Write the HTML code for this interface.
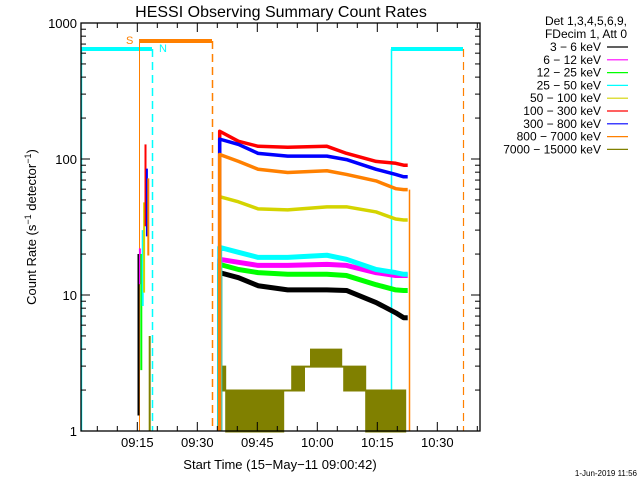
<!DOCTYPE html>
<html><head><meta charset="utf-8"><style>
html,body{margin:0;padding:0;background:#fff;}
svg{display:block;font-family:"Liberation Sans",sans-serif;}
</style></head><body>
<svg id="chart" width="640" height="480" viewBox="0 0 640 480">
<rect x="0" y="0" width="640" height="480" fill="#fff"/>
<text x="281" y="17" font-size="16" text-anchor="middle">HESSI Observing Summary Count Rates</text>
<text transform="translate(36,227) rotate(-90)" font-size="13" text-anchor="middle">Count Rate (s<tspan font-size="9" dy="-5">−1</tspan><tspan dy="5"> detector</tspan><tspan font-size="9" dy="-5">−1</tspan><tspan dy="5">)</tspan></text>
<text x="280" y="469" font-size="13" text-anchor="middle">Start Time (15−May−11 09:00:42)</text>
<text x="637" y="476" font-size="8" text-anchor="end">1-Jun-2019 11:56</text>
<g id="marks"></g>
<g id="axes"></g>
<g id="legend"></g>
</svg>
<script>
// ---- data ----
const seriesNames = ["3 - 6 keV","6 - 12 keV","12 - 25 keV","25 - 50 keV","50 - 100 keV","100 - 300 keV","300 - 800 keV","800 - 7000 keV","7000 - 15000 keV"];
const seriesColors = ["#000000","#ff00ff","#00ff00","#00ffff","#d4d400","#ff0000","#0000ff","#ff8000","#808000"];
// minutes after 09:00
const sampleTimes = [35.6, 40.3, 45.2, 52.6, 62.4, 67.3, 74.7, 79.6, 81.6];
const black3to6 = [14.6, 13.4, 11.7, 10.9, 10.9, 10.8, 8.8, 7.4, 6.8];
const magenta6to12 = [18.3, 17.4, 16.5, 16.5, 16.8, 16.5, 14.6, 13.9, 13.9];
const green12to25 = [16.8, 15.4, 14.6, 14.2, 14.2, 13.9, 11.9, 10.9, 10.8];
const cyan25to50 = [22.4, 20.6, 18.9, 18.9, 19.6, 18.3, 15.4, 14.6, 14.2];
const yellow50to100 = [52.8, 48.4, 43, 42.3, 44.5, 44.5, 40.8, 36.2, 35.6];
const red100to300 = [160, 135, 124, 122, 124, 110, 96, 93, 90];
const blue300to800 = [140, 128, 110, 105, 105, 99, 84, 77, 74];
const orange800to7000 = [108, 96, 84, 79.5, 82, 77, 69, 60.5, 59.5];
// flare spike near 09:15 (low / high values)
const spikeLow = [1.3, 12, 2.8, 8.3, 10.4, 32, 27, 19.5, 1];
const spikeHigh = [20, 22, 20, 30, 48, 128, 85, 72, 5];
// high energy channel: step envelope
const oliveTimes = [35.6, 37.1, 51.6, 53.6, 56.8, 58.3, 66.1, 66.6, 72.1, 82.1];
const oliveHigh = [3, 2, 2, 3, 3, 4, 3, 3, 2];
const oliveLow = [2, 1, 2, 2, 3, 3, 3, 2, 1];
const xTickLabels = ["09:15","09:30","09:45","10:00","10:15","10:30"];
const xTickMinutes = [15, 30, 45, 60, 75, 90];
const yTickValues = [1, 10, 100, 1000];
const yTickLabels = ["1","10","100","1000"];
const allSeries = [black3to6, magenta6to12, green12to25, cyan25to50, yellow50to100, red100to300, blue300to800, orange800to7000];

const L=81,R=480,T=23,B=431;
function xs(m){return 137.3+(m-15)*4.0;}
function ys(v){return B-136*Math.log10(v);}
const NS="http://www.w3.org/2000/svg";
function mk(tag,attrs,parent){const e=document.createElementNS(NS,tag);for(const k in attrs)e.setAttribute(k,attrs[k]);parent.appendChild(e);return e;}
const marks=document.getElementById('marks'),axes=document.getElementById('axes'),legend=document.getElementById('legend');

let e;
e=mk('line',{x1:L+0.5,y1:49,x2:L+0.5,y2:B,stroke:"#00ffff","stroke-width":1.5},marks);

e=mk('line',{x1:L,y1:49,x2:152,y2:49,stroke:"#00ffff","stroke-width":4},marks);

e=mk('line',{x1:152.5,y1:49,x2:152.5,y2:B,stroke:"#00ffff","stroke-width":1.5,"stroke-dasharray":"8,5"},marks);

e=mk('line',{x1:139.5,y1:41,x2:139.5,y2:B,stroke:"#ff8000","stroke-width":1},marks);

e=mk('line',{x1:139,y1:41,x2:212,y2:41,stroke:"#ff8000","stroke-width":4},marks);

e=mk('line',{x1:212.5,y1:41,x2:212.5,y2:B,stroke:"#ff8000","stroke-width":1.5,"stroke-dasharray":"8,5"},marks);

e=mk('line',{x1:391.5,y1:49,x2:391.5,y2:B,stroke:"#00ffff","stroke-width":1.5},marks);

e=mk('line',{x1:391,y1:49,x2:463,y2:49,stroke:"#00ffff","stroke-width":4},marks);

e=mk('line',{x1:463.5,y1:49,x2:463.5,y2:B,stroke:"#ff8000","stroke-width":1.2,"stroke-dasharray":"8,5"},marks);

e=mk('text',{x:126,y:44,fill:"#ff8000","font-size":11},marks);e.textContent="S";

e=mk('text',{x:159,y:52,fill:"#00ffff","font-size":11},marks);e.textContent="N";


// olive high-energy band
let pts=[];
for(let i=0;i<oliveHigh.length;i++){pts.push([xs(oliveTimes[i]),ys(oliveHigh[i])]);pts.push([xs(oliveTimes[i+1]),ys(oliveHigh[i])]);}
for(let i=oliveLow.length-1;i>=0;i--){pts.push([xs(oliveTimes[i+1]),ys(oliveLow[i])+1]);pts.push([xs(oliveTimes[i]),ys(oliveLow[i])+1]);}
e=mk('polygon',{points:pts.map(p=>p.join(',')).join(' '),fill:"#808000",stroke:"#808000","stroke-width":1},marks);


// spikes
for(let s=0;s<9;s++){
  e=mk('line',{x1:xs(15.3+s*0.35),y1:ys(spikeLow[s]),x2:xs(15.3+s*0.35),y2:ys(spikeHigh[s]),stroke:seriesColors[s],"stroke-width":2},marks);
  
}
// main series as lines with start riser
for(let s=0;s<allSeries.length;s++){
  const v=allSeries[s];let d="M"+xs(sampleTimes[0])+","+B+" L"+xs(sampleTimes[0])+","+ys(v[0]);
  for(let i=0;i<v.length;i++){d+=" L"+xs(sampleTimes[i])+","+ys(v[i]);}
  d+=" L"+(xs(sampleTimes[v.length-1])+4)+","+ys(v[v.length-1]);
  e=mk('path',{d:d,fill:"none",stroke:seriesColors[s],"stroke-width":s<4?5:3.5,"stroke-linejoin":"round"},marks);
  
}
e=mk('line',{x1:409.5,y1:ys(orange800to7000[8]),x2:409.5,y2:B,stroke:"#ff8000","stroke-width":1.5},marks);


// axes frame
e=mk('rect',{x:L,y:T,width:R-L,height:B-T,fill:"none",stroke:"#000","stroke-width":1.3},axes);

for(let m=0;m<=100;m+=5){const x=xs(m);if(x<L||x>R)continue;const major=(m%15===0);
  mk('line',{x1:x,y1:B,x2:x,y2:B-(major?9:5),stroke:"#000"},axes);
  mk('line',{x1:x,y1:T,x2:x,y2:T+(major?9:5),stroke:"#000"},axes);}
for(let i=0;i<xTickLabels.length;i++){e=mk('text',{x:xs(xTickMinutes[i]),y:447,"font-size":13,"text-anchor":"middle"},axes);e.textContent=xTickLabels[i];
  }
for(let dec=0;dec<3;dec++)for(let k=1;k<10;k++){const y=ys(k*Math.pow(10,dec));const len=k===1?9:5;
  mk('line',{x1:L,y1:y,x2:L+len,y2:y,stroke:"#000"},axes);mk('line',{x1:R,y1:y,x2:R-len,y2:y,stroke:"#000"},axes);}
for(let i=0;i<yTickValues.length;i++){e=mk('text',{x:77,y:ys(yTickValues[i])+5,"font-size":13,"text-anchor":"end"},axes);e.textContent=yTickLabels[i];
  }

// legend
const lh=["Det 1,3,4,5,6,9,","FDecim 1, Att 0"];
for(let i=0;i<2;i++){e=mk('text',{x:627,y:25+i*13,"font-size":12,"text-anchor":"end"},legend);e.textContent=lh[i];
  }
for(let s=0;s<9;s++){const y=51+s*12.8;
  e=mk('text',{x:601,y:y,"font-size":12,"text-anchor":"end"},legend);e.textContent=seriesNames[s].replace(/-/g,'−');
  
  e=mk('line',{x1:607,y1:y-4,x2:628,y2:y-4,stroke:seriesColors[s],"stroke-width":1.2},legend);
  }
</script>
</body></html>
